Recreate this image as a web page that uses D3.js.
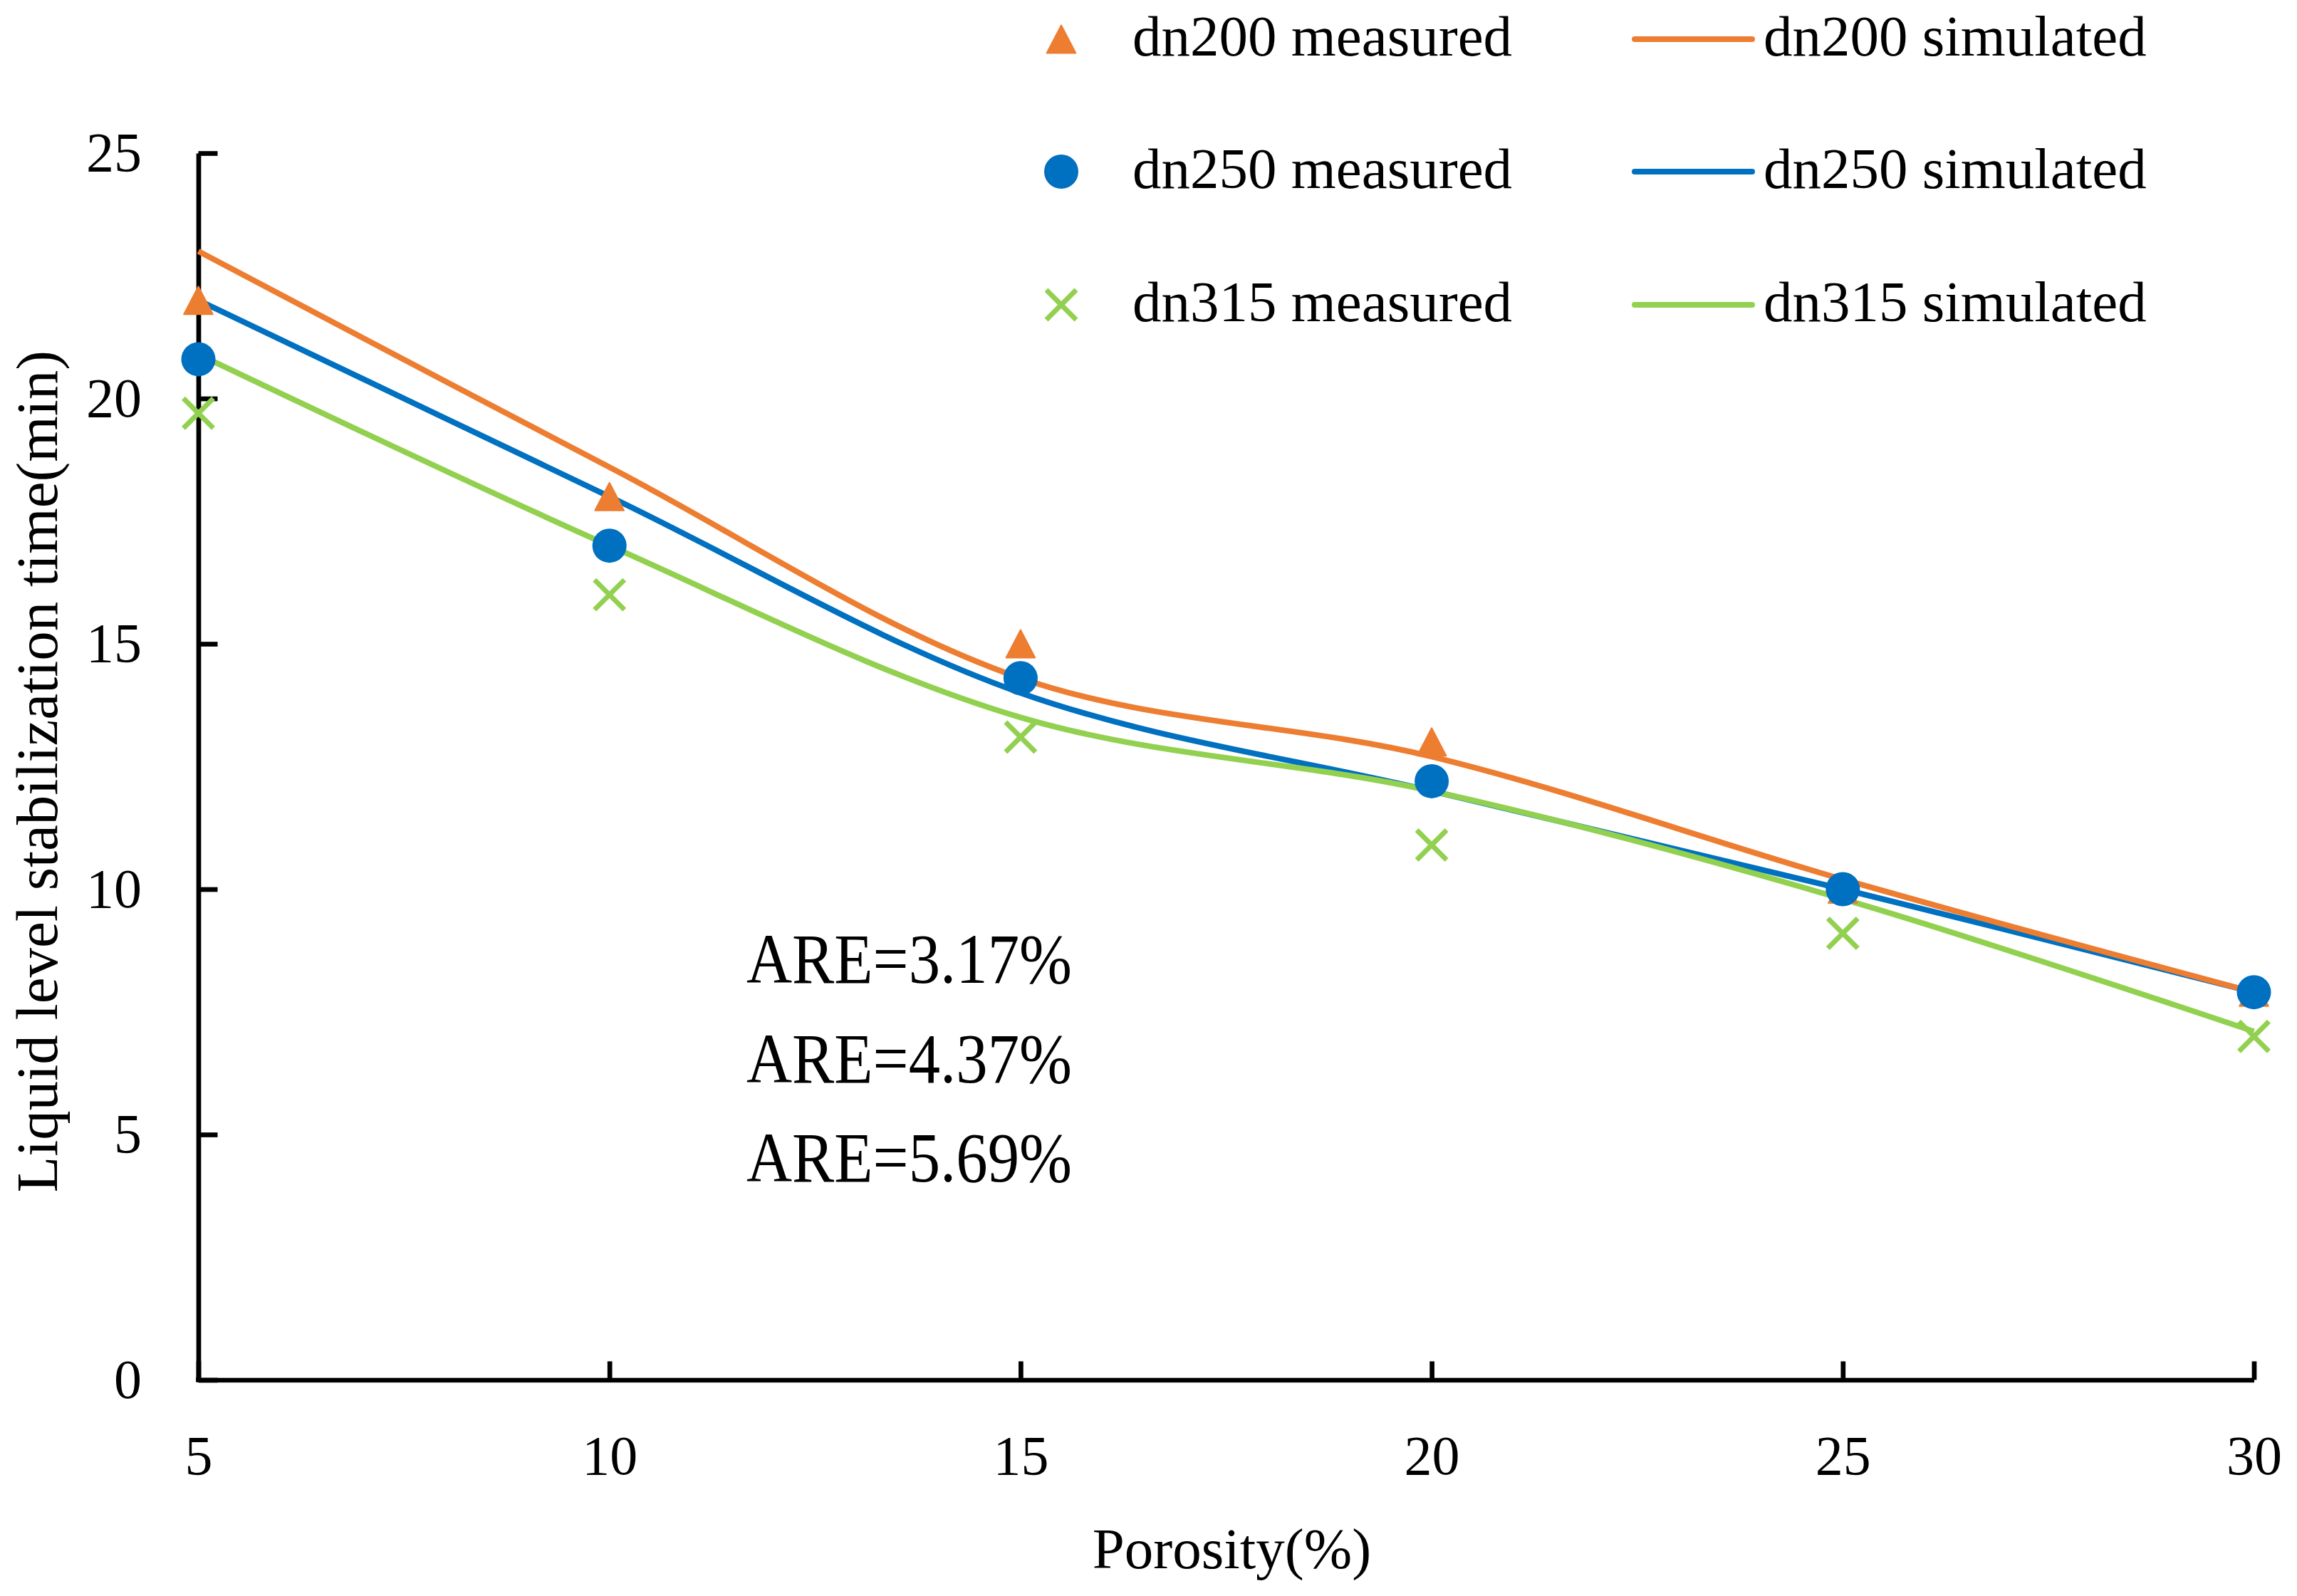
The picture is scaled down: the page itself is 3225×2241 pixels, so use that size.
<!DOCTYPE html>
<html>
<head>
<meta charset="utf-8">
<script src="https://cdn.jsdelivr.net/npm/d3@7"></script>
<style>
    body { margin: 0; background: #fff; }
    text { font-family: 'Palatino Linotype', 'Book Antiqua', Palatino, 'Liberation Serif', serif; fill: #000; }
</style>
</head>
<body>
<script>
// data
const porosity = [5, 10, 15, 20, 25, 30];
const dn200Measured = [22.0, 18.0, 15.0, 13.0, 10.0, 7.9];
const dn250Measured = [20.8, 17.0, 14.3, 12.2, 10.0, 7.9];
const dn315Measured = [19.7, 16.0, 13.1, 10.9, 9.1, 7.0];
const dn200Simulated = [23.0, 18.6, 14.3, 12.7, 10.2, 7.9];
const dn250Simulated = [22.0, 18.0, 14.0, 12.0, 10.0, 7.9];
const dn315Simulated = [20.9, 17.0, 13.5, 12.0, 9.8, 7.1];
const xTicks = [5, 10, 15, 20, 25, 30];
const yTicks = [0, 5, 10, 15, 20, 25];
const areLabels = ['ARE=3.17%', 'ARE=4.37%', 'ARE=5.69%'];

const svgWidth = 3225;
const svgHeight = 2241;
const margin = { top: 215, left: 278.5, right: 60.5, bottom: 303.5 };
const width = svgWidth - margin.left - margin.right;
const height = svgHeight - margin.top - margin.bottom;

const orange = '#ED7D31';
const blue = '#0070C0';
const green = '#92D050';

const svg = d3.select('body')
    .append('svg')
    .attr('width', svgWidth)
    .attr('height', svgHeight);

const g = svg.append('g')
    .attr('transform', `translate(${margin.left}, ${margin.top})`);

const x = d3.scaleLinear().domain([5, 30]).range([0, width]);
const y = d3.scaleLinear().domain([0, 25]).range([height, 0]);

// axes, ticks pointing inwards
const xAxis = g.append('g')
    .attr('transform', `translate(0,${height})`)
    .call(d3.axisBottom(x).tickValues(xTicks).tickSizeInner(-26).tickSizeOuter(0).tickPadding(77));

const yAxis = g.append('g')
    .call(d3.axisLeft(y).tickValues(yTicks).tickSizeInner(-27).tickSizeOuter(0).tickPadding(79.5));

[xAxis, yAxis].forEach(ax => {
    ax.select('.domain').attr('stroke', '#000').attr('stroke-width', 6.7);
    ax.selectAll('.tick line').attr('stroke', '#000').attr('stroke-width', 6.7);
    ax.selectAll('.tick text')
        .style('font-family', "'Palatino Linotype', 'Book Antiqua', Palatino, 'Liberation Serif', serif")
        .style('font-size', '78px')
        .attr('fill', '#000');
});
// close the corner where the two axes meet
g.append('rect')
    .attr('x', -3.35).attr('y', height - 3.35)
    .attr('width', 6.7).attr('height', 6.7)
    .attr('fill', '#000');

// simulated curves
const curve = d3.line()
    .x((d, i) => x(porosity[i]))
    .y(d => y(d))
    .curve(d3.curveCatmullRom.alpha(0.5));

const simSeries = [
    { values: dn250Simulated, color: blue },
    { values: dn200Simulated, color: orange },
    { values: dn315Simulated, color: green }
];

simSeries.forEach(s => {
    g.append('path')
        .datum(s.values)
        .attr('d', curve)
        .attr('fill', 'none')
        .attr('stroke', s.color)
        .attr('stroke-width', 8);
});

// markers
const triPath = 'M0,-19.5L20.3,19.5L-20.3,19.5Z';

function drawTriangle(sel, color) {
    sel.append('path')
        .attr('d', triPath)
        .attr('fill', color)
        .attr('stroke', color)
        .attr('stroke-width', 2)
        .attr('stroke-linejoin', 'round');
}

function drawCircle(sel, color) {
    sel.append('circle')
        .attr('r', 24)
        .attr('fill', color);
}

function drawCross(sel, color) {
    sel.append('path')
        .attr('d', 'M-21,-21L21,21M-21,21L21,-21')
        .attr('fill', 'none')
        .attr('stroke', color)
        .attr('stroke-width', 7);
}

const measuredSeries = [
    { values: dn315Measured, color: green, draw: drawCross },
    { values: dn200Measured, color: orange, draw: drawTriangle },
    { values: dn250Measured, color: blue, draw: drawCircle }
];

measuredSeries.forEach(s => {
    g.selectAll(null)
        .data(s.values)
        .enter()
        .append('g')
        .attr('transform', (d, i) => `translate(${x(porosity[i])},${y(d)})`)
        .each(function () { s.draw(d3.select(this), s.color); });
});

// ARE annotation
svg.selectAll('.are')
    .data(areLabels)
    .enter()
    .append('text')
    .attr('class', 'are')
    .attr('x', 1048)
    .attr('y', (d, i) => 1380 + i * 139.5)
    .attr('textLength', 457)
    .attr('lengthAdjust', 'spacingAndGlyphs')
    .style('font-size', '100px')
    .text(d => d);

// axis titles
svg.append('text')
    .attr('x', margin.left + width / 2 + 8)
    .attr('y', 2202)
    .attr('text-anchor', 'middle')
    .style('font-size', '81px')
    .text('Porosity(%)');

svg.append('text')
    .attr('transform', `translate(80, ${margin.top + height / 2 + 7}) rotate(-90)`)
    .attr('text-anchor', 'middle')
    .style('font-size', '83px')
    .text('Liquid level stabilization time(min)');

// legend
const legendRows = [
    { label: 'dn200', color: orange, draw: drawTriangle },
    { label: 'dn250', color: blue, draw: drawCircle },
    { label: 'dn315', color: green, draw: drawCross }
];
const legendY = [55, 241, 428];

legendRows.forEach((r, i) => {
    const cy = legendY[i];
    const m = svg.append('g').attr('transform', `translate(1490,${cy})`);
    r.draw(m, r.color);

    svg.append('text')
        .attr('x', 1590)
        .attr('y', cy + 23)
        .style('font-size', '81px')
        .text(`${r.label} measured`);

    svg.append('line')
        .attr('x1', 2295).attr('x2', 2460)
        .attr('y1', cy).attr('y2', cy)
        .attr('stroke', r.color)
        .attr('stroke-width', 8)
        .attr('stroke-linecap', 'round');

    svg.append('text')
        .attr('x', 2476)
        .attr('y', cy + 23)
        .style('font-size', '81px')
        .text(`${r.label} simulated`);
});
</script>
</body>
</html>
